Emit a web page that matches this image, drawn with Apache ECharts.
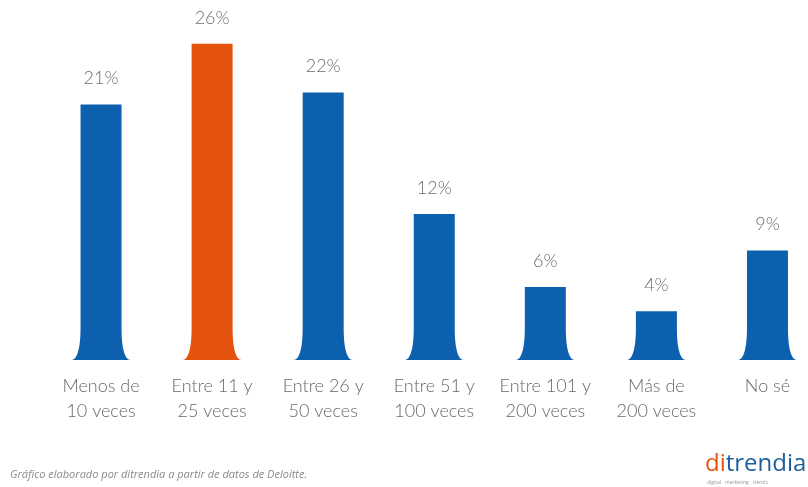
<!DOCTYPE html>
<html>
<head>
<meta charset="utf-8">
<script src="https://cdn.jsdelivr.net/npm/echarts@6/dist/echarts.min.js"></script>
<style>
  html, body { margin: 0; padding: 0; background: #ffffff; overflow: hidden; }
  #chart { width: 823px; height: 487px; }
</style>
</head>
<body>
<div id="chart"></div>
<script>
// Frequency buckets and share of respondents (%)
const categories = [
  'Menos de\n10 veces',
  'Entre 11 y\n25 veces',
  'Entre 26 y\n50 veces',
  'Entre 51 y\n100 veces',
  'Entre 101 y\n200 veces',
  'Más de\n200 veces',
  'No sé'
];
const shares = [21, 26, 22, 12, 6, 4, 9];
const highlightIndex = 1;

const BLUE = '#0d60ad';
const ORANGE = '#e5540f';

const chart = echarts.init(document.getElementById('chart'));

// Bar with a body of fixed width and a base that flares out with curved sides
function renderFlaredBar(params, api) {
  const idx = api.value(0);
  const val = api.value(1);
  const top = api.coord([idx, val]);
  const base = api.coord([idx, 0]);
  const cx = top[0];
  const hw = 20.5;          // half width of the column
  const flareH = Math.min(32, (base[1] - top[1]) * 0.8);
  const ext = 9;            // how far the foot reaches sideways
  const y0 = base[1];
  const y1 = top[1];
  const yf = y0 - flareH;
  const d = [
    'M', cx - hw, y1,
    'L', cx + hw, y1,
    'L', cx + hw, yf,
    'C', cx + hw, y0 - flareH * 0.35, cx + hw + ext * 0.4, y0, cx + hw + ext, y0,
    'L', cx - hw - ext, y0,
    'C', cx - hw - ext * 0.4, y0, cx - hw, y0 - flareH * 0.35, cx - hw, yf,
    'Z'
  ].join(' ');
  return {
    type: 'group',
    children: [
      {
        type: 'path',
        shape: { pathData: d },
        style: { fill: idx === highlightIndex ? ORANGE : BLUE }
      },
      {
        type: 'text',
        style: {
          text: val + '%',
          x: cx,
          y: y1 - 17,
          align: 'center',
          verticalAlign: 'bottom',
          fill: '#6e6e6e',
          font: '300 18px Lato, "Open Sans", sans-serif'
        }
      }
    ]
  };
}

chart.setOption({
  animation: false,
  backgroundColor: '#ffffff',
  grid: { left: 45.5, right: 0, top: 0, bottom: 127 },
  xAxis: {
    type: 'category',
    data: categories,
    axisLine: { show: false },
    axisTick: { show: false },
    axisLabel: {
      margin: 14,
      color: '#6a6a6a',
      fontFamily: 'Lato, "Open Sans", sans-serif',
      fontWeight: 300,
      fontSize: 18,
      lineHeight: 25,
      interval: 0
    }
  },
  yAxis: {
    type: 'value',
    min: 0,
    max: 29.6,
    show: false,
    splitLine: { show: false }
  },
  series: [{
    type: 'custom',
    renderItem: renderFlaredBar,
    data: shares.map((v, i) => [i, v]),
    encode: { x: 0, y: 1 }
  }],
  graphic: [
    {
      type: 'text',
      left: 10,
      top: 469,
      style: {
        text: 'Gráfico elaborado por ditrendia a partir de datos de Deloitte.',
        fill: '#8a8a8a',
        font: 'italic 11px "Open Sans", sans-serif'
      }
    },
    {
      type: 'text',
      left: 705,
      top: 452,
      style: {
        text: '{o|di}{b|trendia}',
        rich: {
          o: { fill: ORANGE, font: '400 24px "Open Sans", sans-serif' },
          b: { fill: '#1d5f9a', font: '400 24px "Open Sans", sans-serif' }
        }
      }
    },
    {
      type: 'text',
      left: 707,
      top: 480,
      style: {
        text: 'digital   marketing   trends',
        fill: '#9a9a9a',
        font: '5px "Open Sans", sans-serif'
      }
    }
  ]
});
</script>
</body>
</html>
